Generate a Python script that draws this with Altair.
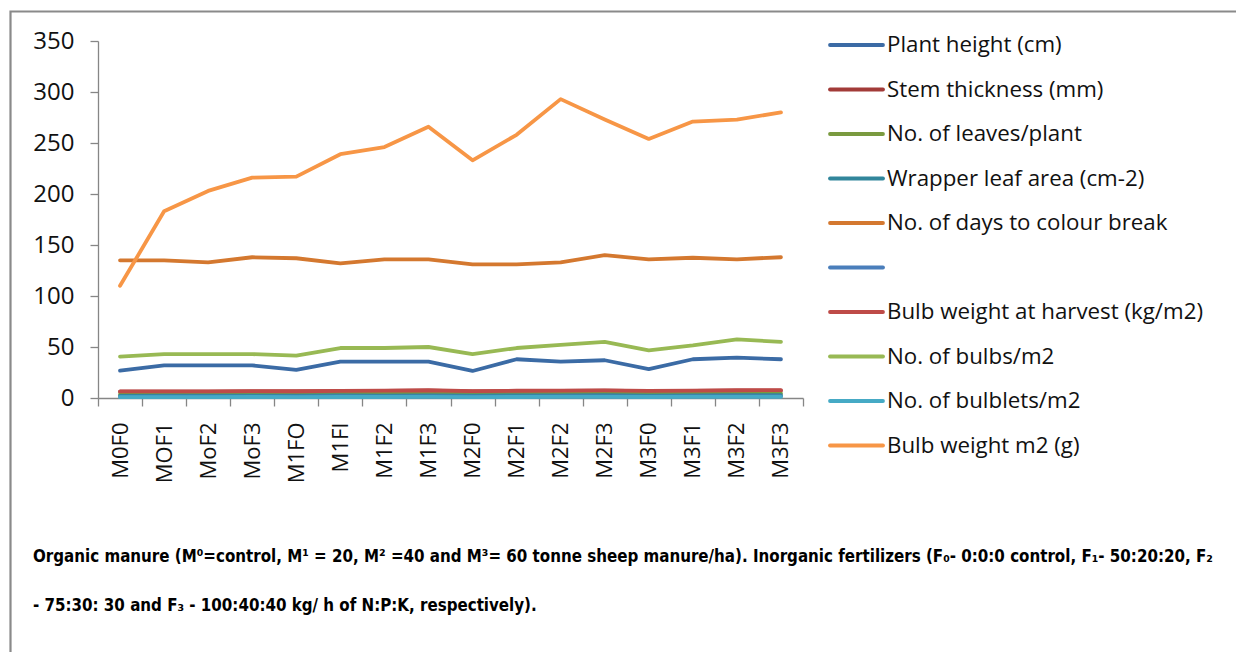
import altair as alt
import pandas as pd

categories = ["M0F0", "MOF1", "MoF2", "MoF3", "M1FO", "M1FI", "M1F2", "M1F3",
              "M2F0", "M2F1", "M2F2", "M2F3", "M3F0", "M3F1", "M3F2", "M3F3"]

series_names = [
    "Plant height (cm)",
    "Stem thickness (mm)",
    "No. of leaves/plant",
    "Wrapper leaf area (cm-2)",
    "No. of days to colour break",
    " ",
    "Bulb weight at harvest (kg/m2)",
    "No. of bulbs/m2",
    "No. of bulblets/m2",
    "Bulb weight m2 (g)",
]

plant_height = [26.8, 32, 32, 32, 27.5, 35.6, 35.6, 35.6, 26.5, 38, 35.6, 37, 28.4, 38, 39.5, 38]
stem_thickness = [6.2, 6.3, 6.3, 6.4, 6.4, 6.6, 7.0, 7.2, 6.5, 6.8, 7.0, 7.1, 6.6, 7.0, 7.2, 7.3]
leaves_per_plant = [3.5, 3.7, 3.8, 4.2, 3.9, 4.1, 4.0, 4.3, 3.8, 4.0, 4.2, 4.4, 3.9, 4.2, 4.4, 4.5]
wrapper_leaf_area = [2.1, 2.3, 2.2, 2.4, 2.2, 2.5, 2.4, 2.6, 2.2, 2.5, 2.6, 2.7, 2.3, 2.6, 2.7, 2.8]
days_colour_break = [135, 135, 133, 138, 137, 132, 136, 136, 131, 131, 133, 140, 136, 137.5, 136, 138]
unnamed_series = [1.2, 1.3, 1.3, 1.4, 1.3, 1.5, 1.4, 1.5, 1.3, 1.4, 1.5, 1.6, 1.4, 1.5, 1.6, 1.6]
bulb_weight_harvest = [6.4, 6.5, 6.5, 6.7, 6.6, 6.9, 7.3, 7.6, 6.8, 7.1, 7.3, 7.4, 6.9, 7.3, 7.6, 7.7]
bulbs_per_m2 = [40.5, 43, 43, 43, 41.5, 49, 49, 50, 43, 49, 52, 55, 46.6, 51.5, 57.5, 55]
bulblets_per_m2 = [0.8, 0.9, 0.9, 1.0, 0.9, 1.0, 1.0, 1.1, 0.9, 1.0, 1.1, 1.1, 1.0, 1.1, 1.1, 1.2]
bulb_weight_m2 = [110, 183, 203, 216, 217, 239, 246, 266, 233, 258, 293, 273, 254, 271, 273, 280]

series_values = [plant_height, stem_thickness, leaves_per_plant, wrapper_leaf_area,
                 days_colour_break, unnamed_series, bulb_weight_harvest, bulbs_per_m2,
                 bulblets_per_m2, bulb_weight_m2]

colors = ["#3B6BA5", "#A23B38", "#7A9A3F", "#31869B", "#D4782F",
          "#4A7EBB", "#BE4B48", "#98B954", "#46AAC5", "#F79646"]

y_ticks = [0, 50, 100, 150, 200, 250, 300, 350]

caption_line1 = ("Organic manure (M\u2070=control, M\u00b9 = 20, M\u00b2 =40 and M\u00b3= 60 tonne sheep "
                 "manure/ha). Inorganic fertilizers (F\u2080- 0:0:0 control, F\u2081- 50:20:20, F\u2082")
caption_line2 = "- 75:30: 30 and F\u2083 - 100:40:40 kg/ h of N:P:K, respectively)."

rows = []
for name, vals in zip(series_names, series_values):
    for c, v in zip(categories, vals):
        rows.append({"series": name, "cat": c, "value": v})
df = pd.DataFrame(rows)

FONT = "Open Sans"
AX_COLOR = "#868686"

base = alt.Chart(df).encode(
    x=alt.X("cat:N", sort=categories, bandPosition=0.5,
            scale=alt.Scale(type="band", paddingInner=0, paddingOuter=0),
            axis=alt.Axis(title=None, labelAngle=-90, tickBand="extent", tickSize=8,
                          labelFontSize=22, labelFont=FONT, labelColor="#111111",
                          labelPadding=16, domainColor=AX_COLOR, tickColor=AX_COLOR,
                          domainWidth=1.3, tickWidth=1.3, grid=False)),
    y=alt.Y("value:Q", scale=alt.Scale(domain=[0, 350], nice=False),
            axis=alt.Axis(title=None, values=y_ticks, tickSize=8, labelFontSize=24,
                          labelFont=FONT, labelColor="#111111", labelPadding=16,
                          domainColor=AX_COLOR, tickColor=AX_COLOR,
                          domainWidth=1.3, tickWidth=1.3, grid=False)),
)

one = alt.Data(values=[{"k": 1}])

layers = []
# outer frame
layers.append(
    alt.Chart(one).mark_rect(fill=None, stroke="#8a8a8a", strokeWidth=2.2).encode(
        x=alt.value(-87.5), x2=alt.value(1400), y=alt.value(-29.5), y2=alt.value(900))
)

for name, col in zip(series_names, colors):
    layers.append(
        base.transform_filter(alt.datum.series == name).mark_line(
            color=col, strokeWidth=3.8, strokeJoin="round", strokeCap="round")
    )

# legend
LEG_X0, LEG_X1, LEG_TX = 732, 785, 789
LEG_Y0, LEG_DY = 4, 44.5
for i, (name, col) in enumerate(zip(series_names, colors)):
    yy = LEG_Y0 + i * LEG_DY
    layers.append(
        alt.Chart(one).mark_rule(color=col, strokeWidth=3.8, strokeCap="round").encode(
            x=alt.value(LEG_X0), x2=alt.value(LEG_X1), y=alt.value(yy))
    )
    layers.append(
        alt.Chart(one).mark_text(text=name, align="left", baseline="middle",
                                 font=FONT, fontSize=22.3, color="#111111").encode(
            x=alt.value(LEG_TX), y=alt.value(yy))
    )

# caption
CAP_FONT = "Liberation Sans Narrow, DejaVu Sans Condensed, Liberation Sans"
for txt, yy in [(caption_line1, 516), (caption_line2, 565)]:
    layers.append(
        alt.Chart(one).mark_text(text=txt, align="left", baseline="middle",
                                 font=CAP_FONT, fontSize=16.8, fontWeight="bold",
                                 color="#000000").encode(
            x=alt.value(-65), y=alt.value(yy))
    )

chart = alt.layer(*layers).properties(
    width=705, height=357,
    autosize=alt.AutoSizeParams(type="none"),
    padding={"left": 90, "top": 33, "right": 433, "bottom": 254},
).configure_view(stroke=None)

chart.save("out.html", embed_options={"renderer": "svg", "actions": False})
